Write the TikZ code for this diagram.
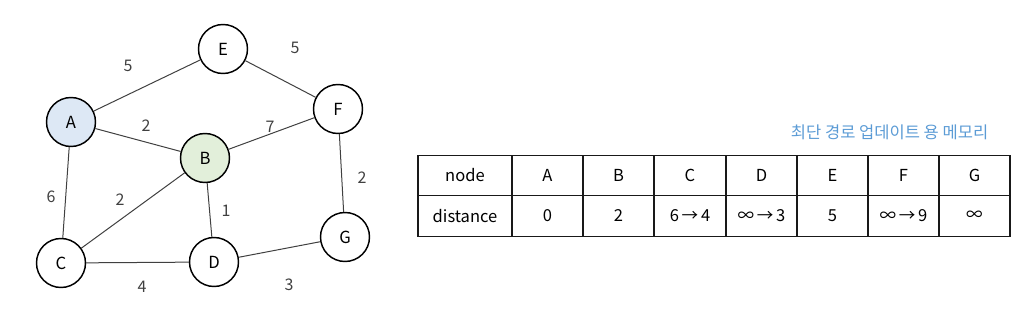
\documentclass[tikz,border=0pt]{standalone}
\usepackage{fontspec}
\setmainfont{Noto Sans CJK KR}
\definecolor{titleblue}{RGB}{91,155,213}
\definecolor{startblue}{RGB}{221,232,245}
\definecolor{curgreen}{RGB}{226,239,218}
\tikzset{
    vertex/.style={circle, draw=black, line width=1.1pt, fill=white, minimum size=36.75pt, inner sep=0pt, font=\fontsize{12.5}{15}\selectfont},
    edge/.style={draw=black!75, line width=0.75pt},
    weight/.style={text=black!75, font=\fontsize{12}{14}\selectfont},
    cell/.style={draw=black!90, line width=0.9pt, minimum width=53.25pt, minimum height=30.375pt, inner sep=0pt, font=\fontsize{12.4}{15}\selectfont}
}
\begin{document}
\begin{tikzpicture}[x=0.75pt, y=-0.75pt]
    \useasboundingbox (0,0) rectangle (1026,309);

    % graph
    \node[vertex] (E) at (223, 49) {E};
    \node[vertex, fill=startblue] (A) at (71, 122) {A};
    \node[vertex] (F) at (338, 109) {F};
    \node[vertex, fill=curgreen] (B) at (205, 158) {B};
    \node[vertex] (G) at (345, 237) {G};
    \node[vertex] (C) at (61, 263) {C};
    \node[vertex] (D) at (214, 262) {D};

    \draw[edge] (A) -- (E);
    \draw[edge] (E) -- (F);
    \draw[edge] (A) -- (B);
    \draw[edge] (B) -- (F);
    \draw[edge] (F) -- (G);
    \draw[edge] (A) -- (C);
    \draw[edge] (B) -- (C);
    \draw[edge] (B) -- (D);
    \draw[edge] (C) -- (D);
    \draw[edge] (D) -- (G);

    \node[weight] (wAE) at (128, 66) {5};
    \node[weight] (wEF) at (295, 48) {5};
    \node[weight] (wAB) at (146, 126) {2};
    \node[weight] (wBF) at (270, 127) {7};
    \node[weight] (wFG) at (362, 178) {2};
    \node[weight] (wAC) at (51, 197) {6};
    \node[weight] (wBC) at (120, 200) {2};
    \node[weight] (wBD) at (226, 211) {1};
    \node[weight] (wCD) at (142, 287) {4};
    \node[weight] (wDG) at (289, 285) {3};

    % memory table
    \node[anchor=east, text=titleblue, font=\fontsize{12.4}{15}\selectfont] (title) at (993, 132) {최단 경로 업데이트 용 메모리};

    \node[cell, minimum width=70.5pt] (hnode) at (465, 175.5) {node};
    \node[cell] (hA) at (547.5, 175.5) {A};
    \node[cell] (hB) at (618.5, 175.5) {B};
    \node[cell] (hC) at (690, 175.5) {C};
    \node[cell] (hD) at (761.5, 175.5) {D};
    \node[cell] (hE) at (832.5, 175.5) {E};
    \node[cell] (hF) at (903.5, 175.5) {F};
    \node[cell] (hG) at (974.5, 175.5) {G};

    \node[cell, minimum width=70.5pt] (dnode) at (465, 216) {distance};
    \node[cell] (dA) at (547.5, 216) {0};
    \node[cell] (dB) at (618.5, 216) {2};
    \node[cell] (dC) at (690, 216) {6\,→\,4};
    \node[cell] (dD) at (761.5, 216) {∞\,→\,3};
    \node[cell] (dE) at (832.5, 216) {5};
    \node[cell] (dF) at (903.5, 216) {∞\,→\,9};
    \node[cell] (dG) at (974.5, 216) {∞};
\end{tikzpicture}
\end{document}
